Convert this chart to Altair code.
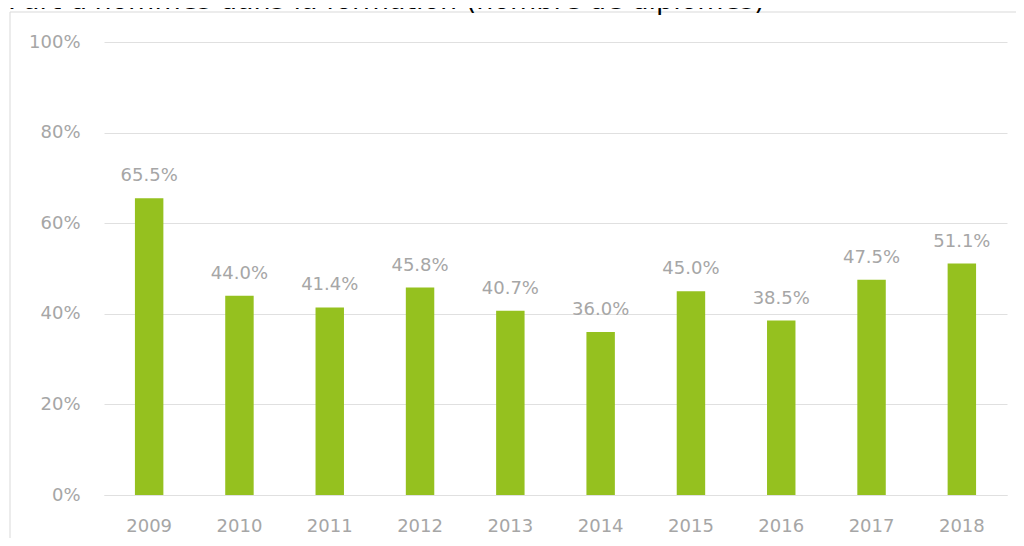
import altair as alt
import pandas as pd

title_text = "Part d'hommes dans la formation (nombre de diplômés)"
years = ["2009", "2010", "2011", "2012", "2013", "2014", "2015", "2016", "2017", "2018"]
shares = [65.5, 44.0, 41.4, 45.8, 40.7, 36.0, 45.0, 38.5, 47.5, 51.1]
y_ticks = [0, 20, 40, 60, 80, 100]

GREEN = "#95C11F"
GRAY_TXT = "#A6A6A6"
GRID = "#E0E0E0"
FONT = "DejaVu Sans"

df = pd.DataFrame({"year": years, "share": shares})
base = alt.Chart(df)

x_enc = alt.X(
    "year:N",
    sort=years,
    scale=alt.Scale(paddingInner=0.685, paddingOuter=0.3425),
    axis=alt.Axis(
        title=None, labelAngle=0, ticks=False, domainColor=GRID, domainWidth=1,
        labelColor=GRAY_TXT, labelFontSize=18, labelFont=FONT, labelPadding=22,
    ),
)
y_enc = alt.Y(
    "share:Q",
    scale=alt.Scale(domain=[0, 100], nice=False),
    axis=alt.Axis(
        title=None, values=y_ticks, labelExpr="datum.value + '%'", ticks=False,
        domain=False, gridColor=GRID, gridWidth=1, labelColor=GRAY_TXT,
        labelFontSize=18, labelFont=FONT, labelPadding=24,
    ),
)

bars = base.mark_bar(color=GREEN).encode(x=x_enc, y=y_enc)

labels = base.transform_calculate(
    lab="format(datum.share, '.1f') + '%'"
).mark_text(
    baseline="alphabetic", dy=-17, fontSize=18, font=FONT, color=GRAY_TXT
).encode(x=alt.X("year:N", sort=years), y="share:Q", text="lab:N")

one = alt.Data(values=[{"t": title_text}])

title = alt.Chart(one).mark_text(
    align="left", baseline="alphabetic", fontSize=27, font=FONT, color="#000000"
).encode(x=alt.value(-96), y=alt.value(-33), text="t:N")

border_left = alt.Chart(one).mark_rule(color="#D9D9D9", strokeWidth=1).encode(
    x=alt.value(-94), y=alt.value(-30), y2=alt.value(520)
)
border_top = alt.Chart(one).mark_rule(color="#D9D9D9", strokeWidth=1).encode(
    x=alt.value(-94), x2=alt.value(930), y=alt.value(-30)
)

chart = alt.layer(border_left, border_top, bars, labels, title).properties(
    width=903,
    height=453,
    padding={"left": 96, "top": 34, "right": 9, "bottom": 43},
    autosize=alt.AutoSizeParams(type="none"),
    background="white",
).configure_view(stroke=None)

chart.save("out.html", embed_options={"renderer": "svg", "actions": False})
